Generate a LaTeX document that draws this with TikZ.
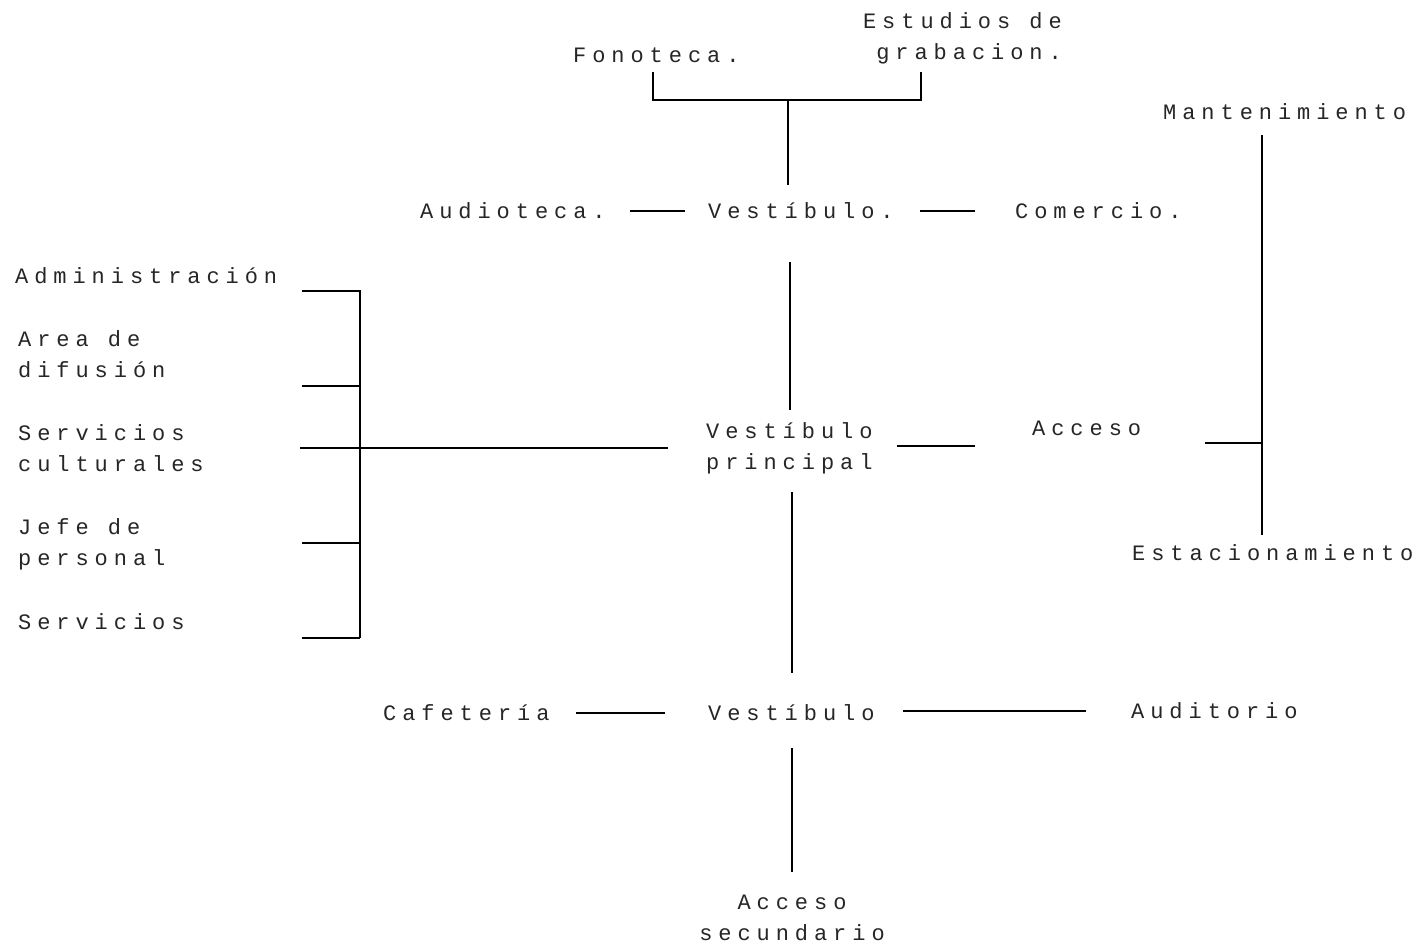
\documentclass[tikz,border=0pt]{standalone}
\usepackage{fontspec}
\newfontfamily\tw[LetterSpace=27]{Liberation Mono}
\begin{document}
\begin{tikzpicture}[x=1pt,y=-1pt,
  lbl/.style={font=\tw\fontsize{22}{31}\selectfont, text=black!85, inner sep=0pt, anchor=base west, align=left},
  conn/.style={draw=black, line width=1.1pt}]
\useasboundingbox[fill=white] (0,0) rectangle (1427,948);
% texts (multi-line nodes are placed by the baseline of their last line)
\node[lbl] (fonoteca) at (573,62) {Fonoteca.};
\node[lbl, align=right, anchor=base east] (estudios) at (1062,59) {Estudios de\\grabacion.};
\node[lbl] (mant) at (1163,119) {Mantenimiento};
\node[lbl] (audioteca) at (420,218) {Audioteca.};
\node[lbl] (vest1) at (708,218) {Vestíbulo.};
\node[lbl] (comercio) at (1015,218) {Comercio.};
\node[lbl] (admin) at (15,283) {Administración};
\node[lbl] (area) at (18,377) {Area de\\difusión};
\node[lbl] (servcult) at (18,471) {Servicios\\culturales};
\node[lbl] (jefe) at (18,565) {Jefe de\\personal};
\node[lbl] (servicios) at (18,629) {Servicios};
\node[lbl] (vestp) at (706,469) {Vestíbulo\\principal};
\node[lbl] (acceso) at (1032,435) {Acceso};
\node[lbl] (estac) at (1132,560) {Estacionamiento};
\node[lbl] (cafe) at (383,720) {Cafetería};
\node[lbl] (vest2) at (708,720) {Vestíbulo};
\node[lbl] (audit) at (1131,718) {Auditorio};
\node[lbl, align=center, anchor=base] (accsec) at (792,940) {Acceso\\secundario};
% connector end points
\coordinate (fonT) at (653,72);
\coordinate (fonB) at (653,100);
\coordinate (estT) at (921,72);
\coordinate (estB) at (921,100);
\coordinate (topMid) at (788,100);
\coordinate (v1Top) at (788,185);
\coordinate (audR) at (630,211);
\coordinate (v1L) at (685,211);
\coordinate (v1R) at (920,211);
\coordinate (comL) at (975,211);
\coordinate (v1Bot) at (790,262);
\coordinate (vpTop) at (790,410);
\coordinate (brT) at (360,290);
\coordinate (brB) at (360,638);
\coordinate (adminE) at (302,291);
\coordinate (areaE) at (302,386);
\coordinate (brA) at (360,386);
\coordinate (servE) at (300,448);
\coordinate (vpL) at (668,448);
\coordinate (jefeE) at (302,543);
\coordinate (brJ) at (360,543);
\coordinate (servsE) at (302,638);
\coordinate (vpR) at (897,446);
\coordinate (accL) at (975,446);
\coordinate (accR) at (1205,443);
\coordinate (rbM) at (1262,443);
\coordinate (mantB) at (1262,135);
\coordinate (estacT) at (1262,535);
\coordinate (vpBot) at (792,492);
\coordinate (v2Top) at (792,673);
\coordinate (cafeR) at (576,713);
\coordinate (v2L) at (665,713);
\coordinate (v2R) at (903,711);
\coordinate (auditL) at (1086,711);
\coordinate (v2Bot) at (792,748);
\coordinate (asTop) at (792,872);
% connectors
\draw[conn] (fonT) -- (fonB) -- (estB) -- (estT);
\draw[conn] (topMid) -- (v1Top);
\draw[conn] (audR) -- (v1L);
\draw[conn] (v1R) -- (comL);
\draw[conn] (v1Bot) -- (vpTop);
\draw[conn] (brT) -- (brB);
\draw[conn] (adminE) -- (adminE -| brT);
\draw[conn] (areaE) -- (brA);
\draw[conn] (servE) -- (vpL);
\draw[conn] (jefeE) -- (brJ);
\draw[conn] (servsE) -- (brB);
\draw[conn] (vpR) -- (accL);
\draw[conn] (accR) -- (rbM);
\draw[conn] (mantB) -- (estacT);
\draw[conn] (vpBot) -- (v2Top);
\draw[conn] (cafeR) -- (v2L);
\draw[conn] (v2R) -- (auditL);
\draw[conn] (v2Bot) -- (asTop);
\end{tikzpicture}
\end{document}
